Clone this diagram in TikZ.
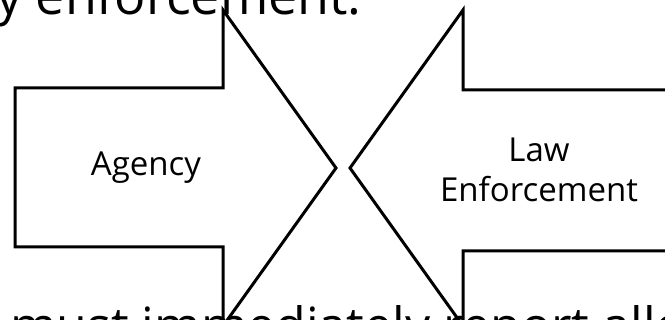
\documentclass[tikz,border=0pt]{standalone}
\usepackage{fontspec}
\setmainfont{Open Sans}
\definecolor{myk}{RGB}{0, 0, 0}
\begin{document}
\begin{tikzpicture}[x=1pt, y=-1pt,
        blockarrow/.style={draw=myk, line width=3pt, line join=miter},
        arrowtext/.style={inner sep=0pt, align=center, font=\fontsize{33}{40}\selectfont},
        slidetext/.style={inner sep=0pt, font=\fontsize{52}{62}\selectfont}]
        \useasboundingbox (0,0) rectangle (665,320);
        \clip (0,0) rectangle (665,320);
        % the two block arrows pointing at each other
        \draw[blockarrow] (15,88) -- (223,88) -- (223,10) -- (336,168) -- (223,326) -- (223,247) -- (15,247) -- cycle;
        \draw[blockarrow] (671,90) -- (463,90) -- (463,10) -- (350,168) -- (463,326) -- (463,251) -- (671,251) -- cycle;
        \node[arrowtext] (agency) at (146,168) {Agency};
        \node[arrowtext] (law) at (539,170) {Law\\Enforcement};
        % slide text cut by the frame
        \node[slidetext, anchor=base east] (top) at (362,15) {y enforcement.};
        \node[slidetext, font=\fontsize{50}{60}\selectfont, anchor=base west] (bottom) at (-31,344) {e must immediately report alle};
    \end{tikzpicture}
\end{document}
